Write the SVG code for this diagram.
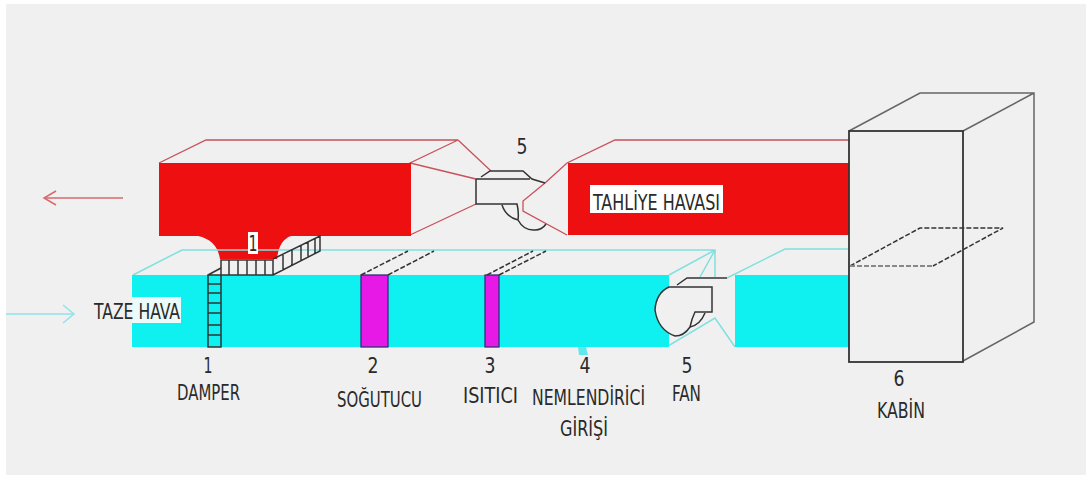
<svg xmlns="http://www.w3.org/2000/svg" width="1086" height="486" viewBox="0 0 1086 486">
<defs><marker id="ra" markerWidth="16" markerHeight="18" refX="13" refY="8" orient="auto" markerUnits="userSpaceOnUse"><path d="M1 1 L13 8 L1 15" fill="none" stroke="#d9686e" stroke-width="1.5"/></marker>
<marker id="ca" markerWidth="16" markerHeight="22" refX="13" refY="10" orient="auto" markerUnits="userSpaceOnUse"><path d="M2 1 L13 10 L2 19" fill="none" stroke="#8fe3ea" stroke-width="1.5"/></marker></defs>
<style>
text{font-family:"DejaVu Sans Condensed","DejaVu Sans","Liberation Sans",sans-serif;font-stretch:condensed;fill:#2a2a2a;font-size:22px;text-anchor:middle}
.r{fill:none;stroke:#c8505a;stroke-width:1.3}
.c{fill:none;stroke:#80e0e0;stroke-width:1.5}
.k{fill:none;stroke:#333;stroke-width:1.5}
.d{fill:none;stroke:#333;stroke-width:1.5;stroke-dasharray:5 2}
.g{fill:none;stroke:#666;stroke-width:1.5}
.red{fill:#ee1010}.cy{fill:#0ff0f0}.mg{fill:#e619e6;stroke:#303078;stroke-width:1.3}
.lb{fill:#fff}
</style>
<rect width="1086" height="486" fill="#fff"/>
<rect x="6" y="4" width="1080" height="471" fill="#f0f0f0"/>
<g id="arrows">
<line x1="123" y1="198" x2="44" y2="198" stroke="#d9686e" stroke-width="1.5" marker-end="url(#ra)"/>
<line x1="6" y1="314" x2="74" y2="314" stroke="#8fe3ea" stroke-width="1.5" marker-end="url(#ca)"/>
</g>
<g id="exhaust-duct">
<path class="r" d="M159 163 L206 140 H458 L410 163 L476 179 M410 235 L476 204 M458 140 L491 171 M545 183 L567 163 L615 140 H849 M545 183 L523 201 V211 L567 235"/>
<path class="red" d="M159 163 H411 V236 H291 Q279 240 277 259 H220 Q217 240 198 236 H159 Z"/>
<path class="red" d="M568 163 H849 V235 H568 Z"/>
</g>
<g id="fresh-duct">
<path class="c" d="M133 275 L182 250 H715 V277 M669 275 L715 250 M700 277 L715 250 M668 346 L715 318 L735 347 M727 278 L785 249 H849"/>
<rect class="cy" x="132" y="275" width="537" height="72"/>
<rect class="cy" x="735" y="275" width="114" height="72"/>
<path d="M578 347 H586 L588 355 H579 Z" fill="#60e8ee"/>
</g>
<g id="damper">
<path class="k" d="M208 275 V347 H221 V275 Z M208 284 H221 M208 293 H221 M208 303 H221 M208 313 H221 M208 325 H221 M208 335 H221 M208 275 L221 268"/>
<path class="k" d="M221 260 H273 V275 H221 Z M229 260 V275 M238 260 V275 M247 260 V275 M256 260 V275 M265 260 V275 M273 259 L320 236 V251 L273 275 M283 255 V270 M292 250 V265 M301 245 V260 M308 242 V257 M315 238 V253"/>
</g>
<g id="cooler"><rect class="mg" x="361" y="275" width="27" height="72"/><path class="d" d="M361 275 L408 251 M388 275 L434 251"/></g>
<g id="heater"><rect class="mg" x="485" y="275" width="14" height="72"/><path class="d" d="M487 275 L533 251 M499 275 L546 251"/></g>
<g id="exhaust-fan">
<path class="k" d="M476 179 H530 M476 179 V204 H517 Q519 212 518 220 M481 177 L490 171 H523 L532 179 L545 183 M502 205 Q506 217 518 220 Q524 231 535 230 Q542 230 546 224"/>
</g>
<g id="supply-fan">
<path d="M669 287 H712 V312 H695 Q692 318 690 327 Q684 336 675 336 Q658 330 655 310 Q656 293 669 287 Z" fill="#f0f0f0" stroke="#333" stroke-width="1.5"/>
<path class="k" d="M677 285 L687 278 H727 M690 327 Q700 325 705 313"/>
</g>
<g id="cabin">
<path class="g" d="M849 131 L920 93 H1034 V322 L963 361 M963 131 L1034 93"/>
<rect x="849" y="131" width="114" height="231" fill="none" stroke="#333" stroke-width="1.8"/>
<path class="d" d="M850 266 L920 228 H1003 L933 266"/>
<path d="M850 266 H933" fill="none" stroke="#888" stroke-width="1.8" stroke-dasharray="5 2"/>
</g>
<g id="labels">
<rect class="lb" x="248" y="232" width="10" height="22"/><text x="253" y="251" textLength="9" lengthAdjust="spacingAndGlyphs">1</text>
<text x="522" y="154" textLength="11" lengthAdjust="spacingAndGlyphs">5</text>
<rect class="lb" x="590" y="185" width="133" height="28"/><text x="656.500" y="210" textLength="127" lengthAdjust="spacingAndGlyphs">TAHLİYE HAVASI</text>
<rect x="132" y="297" width="49" height="26" fill="#ecfafa"/><text x="137" y="319" textLength="86" lengthAdjust="spacingAndGlyphs">TAZE HAVA</text>
<text x="208" y="373" textLength="9" lengthAdjust="spacingAndGlyphs">1</text><text x="208.500" y="400" textLength="63" lengthAdjust="spacingAndGlyphs">DAMPER</text>
<text x="373" y="373" textLength="11" lengthAdjust="spacingAndGlyphs">2</text><text x="379.500" y="407" textLength="85" lengthAdjust="spacingAndGlyphs">SOĞUTUCU</text>
<text x="490" y="373" textLength="11" lengthAdjust="spacingAndGlyphs">3</text><text x="490.500" y="403" textLength="55" lengthAdjust="spacingAndGlyphs">ISITICI</text>
<text x="585" y="373" textLength="11" lengthAdjust="spacingAndGlyphs">4</text><text x="588.500" y="405" textLength="113" lengthAdjust="spacingAndGlyphs">NEMLENDİRİCİ</text><text x="584" y="436" textLength="48" lengthAdjust="spacingAndGlyphs">GİRİŞİ</text>
<text x="687" y="373" textLength="11" lengthAdjust="spacingAndGlyphs">5</text><text x="686.500" y="401" textLength="29" lengthAdjust="spacingAndGlyphs">FAN</text>
<text x="899" y="386" textLength="11" lengthAdjust="spacingAndGlyphs">6</text><text x="901" y="418" textLength="48" lengthAdjust="spacingAndGlyphs">KABİN</text>
</g>
</svg>
